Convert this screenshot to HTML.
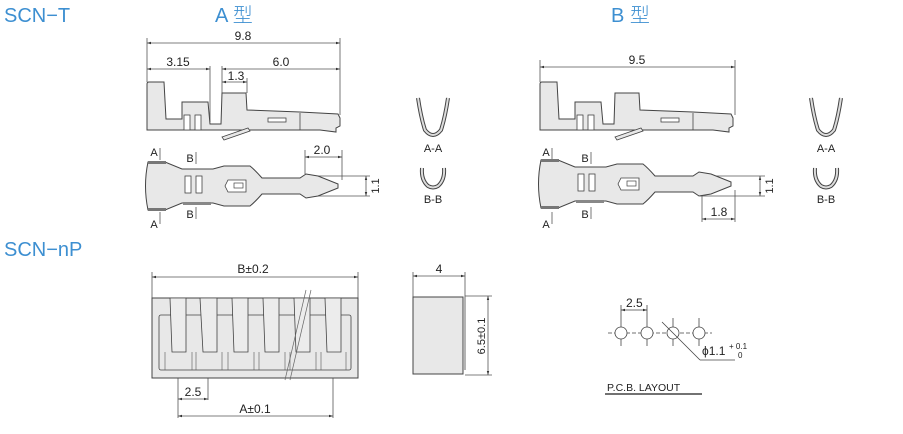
<!DOCTYPE html>
<html><head><meta charset="utf-8"><style>
html,body{margin:0;padding:0;background:#fff;}
svg{display:block;}
.t{font-family:"Liberation Sans","Noto Sans CJK SC",sans-serif;}
</style></head><body>
<svg width="903" height="434" viewBox="0 0 903 434" xmlns="http://www.w3.org/2000/svg">
<defs>
<marker id="ar" viewBox="0 0 10 10" refX="10" refY="5" markerWidth="7" markerHeight="5" orient="auto-start-reverse"><path d="M0,2 L10,5 L0,8 z" fill="#333"/></marker>
<g id="side">
<path d="M147,130 L147,84 Q147,82 149,82 L164,82 L166,119 L182,119 L182,102 L208,102 L210,124 L221,124 L222,93 L246,93 L247,110 L300,112 L338,114 L340,118 L340,126 L336,128 L336,132 L320,130 L270,130 L247,130 Z" fill="#e8e8e8" stroke="#444" stroke-width="1"/>
<rect x="184" y="115" width="6" height="15" fill="#fff" stroke="#444" stroke-width="0.8"/>
<rect x="195" y="115" width="6" height="15" fill="#fff" stroke="#444" stroke-width="0.8"/>
<rect x="268" y="118" width="18" height="4" fill="#fff" stroke="#444" stroke-width="0.8"/>
<line x1="300" y1="113" x2="300" y2="130" stroke="#444" stroke-width="0.8"/>
<path d="M222,137 L248,128 L250,131 L224,140 Z" fill="#e8e8e8" stroke="#444" stroke-width="0.8"/>
</g>
<g id="topv">
<path d="M148,162 L165,162 L182,169 L213,169 L224,166 L250,166 Q255,170 262,178 L300,178 L306,174 L318,176 L338,184 L338,188 L318,196 L306,198 L300,194 L262,194 Q255,202 250,206 L224,206 L213,203 L182,203 L165,210 L148,210 Q143,186 148,162 Z" fill="#e8e8e8" stroke="#444" stroke-width="1"/>
<rect x="148" y="161" width="18" height="3" fill="#777"/>
<rect x="148" y="208" width="18" height="3" fill="#777"/>
<rect x="183" y="202" width="28" height="3" fill="#888"/>
<rect x="185" y="176" width="6" height="17" fill="#fff" stroke="#444" stroke-width="0.8"/>
<rect x="196" y="176" width="6" height="17" fill="#fff" stroke="#444" stroke-width="0.8"/>
<path d="M228,180 L246,180 L246,192 L228,192 L225,186 Z" fill="#fff" stroke="#444" stroke-width="0.8"/>
<rect x="234" y="183" width="9" height="5" fill="#fff" stroke="#444" stroke-width="0.7"/>
</g>
<g id="vsec">
<path d="M-15,0 Q-12,20 -8,32 Q0,42 8,32 Q12,20 15,0" fill="none" stroke="#444" stroke-width="4"/>
<path d="M-15,0 Q-12,20 -8,32 Q0,42 8,32 Q12,20 15,0" fill="none" stroke="#ddd" stroke-width="2"/>
</g>
<g id="usec">
<path d="M-11,0 Q-12,12 -5,18 Q0,21 5,18 Q12,12 11,0" fill="none" stroke="#444" stroke-width="4"/>
<path d="M-11,0 Q-12,12 -5,18 Q0,21 5,18 Q12,12 11,0" fill="none" stroke="#ddd" stroke-width="2"/>
</g>
</defs>

<g class="t" fill="#3d8fd1" font-size="20" font-weight="300">
<text x="4" y="22">SCN−T</text>
<text x="215" y="22">A 型</text>
<text x="611" y="22">B 型</text>
<text x="4" y="256">SCN−nP</text>
</g>

<g stroke="#555" stroke-width="0.8" fill="none">
<line x1="147" y1="38" x2="147" y2="82"/><line x1="340" y1="38" x2="340" y2="115"/>
<line x1="147" y1="43" x2="340" y2="43" marker-start="url(#ar)" marker-end="url(#ar)"/>
<line x1="210" y1="66" x2="210" y2="122"/><line x1="222" y1="66" x2="222" y2="93"/>
<line x1="147" y1="69" x2="210" y2="69" marker-start="url(#ar)" marker-end="url(#ar)"/>
<line x1="222" y1="69" x2="340" y2="69" marker-start="url(#ar)" marker-end="url(#ar)"/>
<line x1="247" y1="78" x2="247" y2="93"/>
<line x1="222" y1="82" x2="247" y2="82" marker-start="url(#ar)" marker-end="url(#ar)"/>
<line x1="305" y1="150" x2="305" y2="174"/><line x1="342" y1="150" x2="342" y2="180"/>
<line x1="305" y1="157" x2="342" y2="157" marker-start="url(#ar)" marker-end="url(#ar)"/>
<line x1="318" y1="176" x2="370" y2="176"/><line x1="318" y1="196" x2="370" y2="196"/>
<line x1="366" y1="176" x2="366" y2="196" marker-start="url(#ar)" marker-end="url(#ar)"/>
<line x1="540" y1="60" x2="540" y2="82"/><line x1="735" y1="60" x2="735" y2="115"/>
<line x1="540" y1="67" x2="735" y2="67" marker-start="url(#ar)" marker-end="url(#ar)"/>
<line x1="700" y1="176" x2="765" y2="176"/><line x1="700" y1="196" x2="765" y2="196"/>
<line x1="760" y1="176" x2="760" y2="196" marker-start="url(#ar)" marker-end="url(#ar)"/>
<line x1="702" y1="192" x2="702" y2="222"/><line x1="735" y1="190" x2="735" y2="222"/>
<line x1="702" y1="219" x2="735" y2="219" marker-start="url(#ar)" marker-end="url(#ar)"/>
<line x1="160" y1="148" x2="160" y2="160"/><line x1="160" y1="212" x2="160" y2="224"/>
<line x1="196" y1="152" x2="196" y2="164"/><line x1="196" y1="207" x2="196" y2="219"/>
<line x1="552" y1="148" x2="552" y2="160"/><line x1="552" y1="212" x2="552" y2="224"/>
<line x1="591" y1="152" x2="591" y2="164"/><line x1="591" y1="207" x2="591" y2="219"/>
</g>

<use href="#side"/>
<use href="#topv"/>
<g transform="translate(393,0)"><use href="#side"/></g>
<g transform="translate(393,-2)"><use href="#topv"/></g>
<g transform="translate(433,98)"><use href="#vsec"/></g>
<g transform="translate(433,168)"><use href="#usec"/></g>
<g transform="translate(826,98)"><use href="#vsec"/></g>
<g transform="translate(826,168)"><use href="#usec"/></g>

<g class="t" font-size="12" fill="#222" text-anchor="middle">
<text x="243" y="40">9.8</text>
<text x="178" y="66">3.15</text>
<text x="281" y="66">6.0</text>
<text x="236" y="80">1.3</text>
<text x="322" y="154">2.0</text>
<text x="637" y="64">9.5</text>
<text x="719" y="216">1.8</text>
<text x="433" y="152" font-size="11">A-A</text>
<text x="433" y="203" font-size="11">B-B</text>
<text x="826" y="152" font-size="11">A-A</text>
<text x="826" y="203" font-size="11">B-B</text>
<text x="154" y="156" font-size="11">A</text><text x="154" y="228" font-size="11">A</text>
<text x="190" y="162" font-size="11">B</text><text x="190" y="218" font-size="11">B</text>
<text x="546" y="156" font-size="11">A</text><text x="546" y="228" font-size="11">A</text>
<text x="585" y="162" font-size="11">B</text><text x="585" y="218" font-size="11">B</text>
<text font-size="11" transform="translate(379,186) rotate(-90)">1.1</text>
<text font-size="11" transform="translate(773,186) rotate(-90)">1.1</text>
</g>

<g stroke="#555" stroke-width="0.8" fill="none">
<line x1="152" y1="272" x2="152" y2="298"/><line x1="358" y1="272" x2="358" y2="298"/>
<line x1="152" y1="277" x2="358" y2="277" marker-start="url(#ar)" marker-end="url(#ar)"/>
<line x1="178" y1="352" x2="178" y2="418"/><line x1="208" y1="352" x2="208" y2="400"/>
<line x1="178" y1="399" x2="208" y2="399" marker-start="url(#ar)" marker-end="url(#ar)"/>
<line x1="333" y1="352" x2="333" y2="418"/>
<line x1="178" y1="416" x2="333" y2="416" marker-start="url(#ar)" marker-end="url(#ar)"/>
<line x1="413" y1="272" x2="413" y2="297"/><line x1="465" y1="272" x2="465" y2="297"/>
<line x1="413" y1="276" x2="465" y2="276" marker-start="url(#ar)" marker-end="url(#ar)"/>
<line x1="465" y1="296" x2="492" y2="296"/><line x1="465" y1="375" x2="492" y2="375"/>
<line x1="488" y1="296" x2="488" y2="375" marker-start="url(#ar)" marker-end="url(#ar)"/>
</g>
<rect x="152" y="298" width="206" height="80" fill="#e8e8e8" stroke="#444" stroke-width="1"/>
<rect x="159" y="315" width="192" height="55" rx="2" fill="#e8e8e8" stroke="#444" stroke-width="0.8"/>
<g fill="#ececec" stroke="#444" stroke-width="0.8">
<path d="M170,298 L186,298 L186,352 L172,352 Z"/>
<path d="M200,298 L217,298 L217,352 L203,352 Z"/>
<path d="M232,298 L248,298 L248,352 L234,352 Z"/>
<path d="M263,298 L279,298 L279,352 L265,352 Z"/>
<path d="M294,298 L310,298 L310,352 L296,352 Z"/>
<path d="M325,298 L341,298 L341,352 L327,352 Z"/>
</g>
<g stroke="#555" stroke-width="0.6">
<line x1="165" y1="352" x2="165" y2="370"/><line x1="192" y1="352" x2="192" y2="370"/>
<line x1="196" y1="352" x2="196" y2="370"/><line x1="222" y1="352" x2="222" y2="370"/>
<line x1="228" y1="352" x2="228" y2="370"/><line x1="254" y1="352" x2="254" y2="370"/>
<line x1="259" y1="352" x2="259" y2="370"/><line x1="285" y1="352" x2="285" y2="370"/>
<line x1="290" y1="352" x2="290" y2="370"/><line x1="316" y1="352" x2="316" y2="370"/>
<line x1="321" y1="352" x2="321" y2="370"/><line x1="346" y1="352" x2="346" y2="370"/>
</g>
<g stroke="#666" stroke-width="0.7"><line x1="306" y1="290" x2="285" y2="380"/><line x1="311" y1="290" x2="290" y2="380"/></g>
<rect x="413" y="297" width="50" height="77" fill="#e8e8e8" stroke="#444" stroke-width="1"/>
<line x1="465" y1="297" x2="465" y2="370" stroke="#444" stroke-width="0.8"/>

<g class="t" font-size="12" fill="#222" text-anchor="middle">
<text x="253" y="273">B±0.2</text>
<text x="193" y="396">2.5</text>
<text x="255" y="413">A±0.1</text>
<text x="439" y="273">4</text>
<text font-size="11" transform="translate(485,336) rotate(-90)">6.5±0.1</text>
</g>

<g stroke="#444" stroke-width="0.8" fill="none">
<line x1="608" y1="333" x2="712" y2="333" stroke-dasharray="4,2"/>
<line x1="621" y1="305" x2="621" y2="346"/><line x1="647" y1="305" x2="647" y2="346"/>
<line x1="673" y1="318" x2="673" y2="346"/><line x1="699" y1="318" x2="699" y2="346"/>
<line x1="621" y1="310" x2="647" y2="310" marker-start="url(#ar)" marker-end="url(#ar)"/>
<circle cx="621" cy="333" r="6" fill="#fff"/><circle cx="647" cy="333" r="6" fill="#fff"/>
<circle cx="673" cy="333" r="6" fill="#fff"/><circle cx="699" cy="333" r="6" fill="#fff"/>
<line x1="662" y1="322" x2="700" y2="360"/><line x1="700" y1="360" x2="735" y2="360"/>
<line x1="605" y1="394" x2="702" y2="394" stroke-width="1.5"/>
</g>
<g class="t" font-size="12" fill="#222">
<text x="626" y="307">2.5</text>
<text x="702" y="355">ϕ1.1</text>
<text x="729" y="349" font-size="8">+ 0.1</text>
<text x="738" y="358" font-size="8">0</text>
<text x="607" y="391" font-size="10.5">P.C.B. LAYOUT</text>
</g>
</svg>
</body></html>
